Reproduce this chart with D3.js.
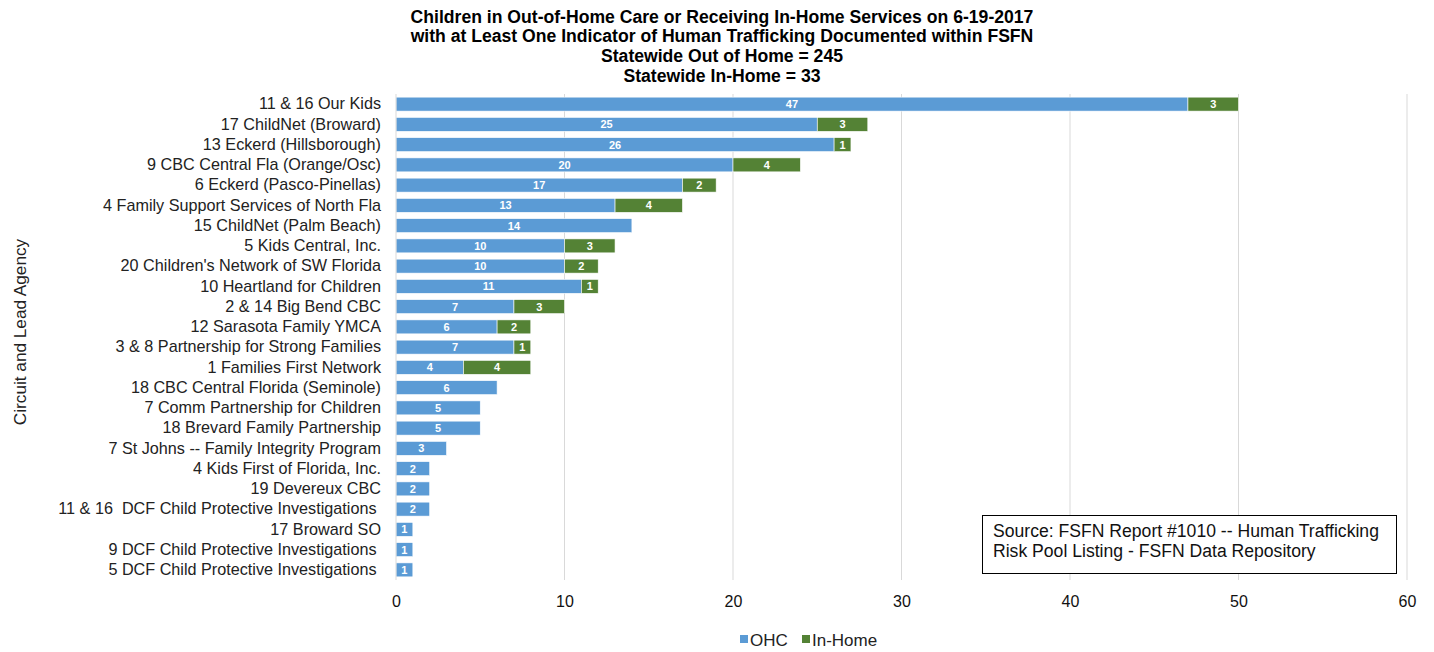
<!DOCTYPE html>
<html><head><meta charset="utf-8">
<script src="https://cdn.jsdelivr.net/npm/d3@7"></script>
<style>
html,body{margin:0;padding:0;background:#fff;}
svg{display:block;font-family:Arial,"Liberation Sans",sans-serif;}
text{white-space:pre;}
</style></head><body>
<svg id="chart" width="1434" height="652"></svg>
<script>
const categories = [
  "11 & 16 Our Kids","17 ChildNet (Broward)","13 Eckerd (Hillsborough)","9 CBC Central Fla (Orange/Osc)",
  "6 Eckerd (Pasco-Pinellas)","4 Family Support Services of North Fla","15 ChildNet (Palm Beach)","5 Kids Central, Inc.",
  "20 Children's Network of SW Florida","10 Heartland for Children","2 & 14 Big Bend CBC","12 Sarasota Family YMCA",
  "3 & 8 Partnership for Strong Families","1 Families First Network","18 CBC Central Florida (Seminole)","7 Comm Partnership for Children",
  "18 Brevard Family Partnership","7 St Johns -- Family Integrity Program","4 Kids First of Florida, Inc.","19 Devereux CBC",
  "11 & 16  DCF Child Protective Investigations ","17 Broward SO","9 DCF Child Protective Investigations ","5 DCF Child Protective Investigations "
];
const ohc    = [47,25,26,20,17,13,14,10,10,11,7,6,7,4,6,5,5,3,2,2,2,1,1,1];
const inHome = [3,3,1,4,2,4,0,3,2,1,3,2,1,4,0,0,0,0,0,0,0,0,0,0];
const xTicks = [0,10,20,30,40,50,60];
const seriesNames = ["OHC","In-Home"];
const colors = ["#5B9BD5","#548235"];
const titleLines = [
  "Children in Out-of-Home Care or Receiving In-Home Services on 6-19-2017",
  "with at Least One Indicator of Human Trafficking Documented within FSFN",
  "Statewide Out of Home = 245",
  "Statewide In-Home = 33"
];
const sourceLines = ["Source: FSFN Report #1010 -- Human Trafficking","Risk Pool Listing - FSFN Data Repository"];

(function(){
const svg = d3.select("#chart");
const pL = 396, pR = 1407, pT = 94, pB = 580;

const x = d3.scaleLinear().domain([0,60]).range([pL,pR]);
const y = d3.scaleBand().domain(categories).range([pT,pB]).paddingInner(0.31).paddingOuter(0.155);

// gridlines
svg.append("g").selectAll("line").data(xTicks.filter(d=>d>0)).join("line")
  .attr("x1",d=>x(d)).attr("x2",d=>x(d)).attr("y1",pT).attr("y2",pB)
  .attr("stroke","#d9d9d9").attr("stroke-width",1);

// title
svg.append("g").selectAll("text").data(titleLines).join("text")
  .attr("x",722).attr("y",(d,i)=>22.5+i*19.7)
  .attr("text-anchor","middle").attr("font-weight","bold").attr("font-size",17.6)
  .attr("fill","#000").style("font-family","'Liberation Sans Narrow','Arial Narrow',Arial,sans-serif")
  .text(d=>d);

// data
const rows = categories.map((c,i)=>({cat:c, ohc:ohc[i], inHome:inHome[i]}));
const stack = d3.stack().keys(["ohc","inHome"])(rows);

const g = svg.append("g");
stack.forEach((layer,li)=>{
  const lg = g.append("g");
  const segs = layer.filter(d=>d[1]-d[0]>0);
  lg.selectAll("rect").data(segs).join("rect")
    .attr("x",d=>x(d[0])).attr("y",d=>y(d.data.cat))
    .attr("width",d=>x(d[1])-x(d[0])).attr("height",y.bandwidth())
    .attr("fill",colors[li]).attr("stroke","#fff").attr("stroke-width",0.6);
  lg.selectAll("text").data(segs).join("text")
    .attr("x",d=>(x(d[0])+x(d[1]))/2).attr("y",d=>y(d.data.cat)+y.bandwidth()/2+4)
    .attr("text-anchor","middle").attr("font-size",11).attr("font-weight","bold")
    .attr("fill","#fff").text(d=>d[1]-d[0]);
});

// y axis line
svg.append("line").attr("x1",pL).attr("x2",pL).attr("y1",pT).attr("y2",pB)
  .attr("stroke","#d9d9d9").attr("stroke-width",1);

// category labels
const yAxis = d3.axisLeft(y).tickSize(0).tickPadding(15);
const ya = svg.append("g").attr("transform",`translate(${pL},0)`).call(yAxis);
ya.select(".domain").remove();
ya.selectAll("text").attr("font-size",16.2).attr("fill","#222").style("font-family","Arial,'Liberation Sans',sans-serif");

// x axis labels
const xAxis = d3.axisBottom(x).tickValues(xTicks).tickSize(0).tickPadding(16);
const xa = svg.append("g").attr("transform",`translate(0,${pB})`).call(xAxis);
xa.select(".domain").remove();
xa.selectAll("text").attr("font-size",16).attr("fill","#111").style("font-family","Arial,'Liberation Sans',sans-serif");

// y axis title
svg.append("text").attr("transform","translate(26,332) rotate(-90)")
  .attr("text-anchor","middle").attr("font-size",17.2).attr("fill","#222").text("Circuit and Lead Agency");

// source box
svg.append("rect").attr("x",982.5).attr("y",515.5).attr("width",414).attr("height",58)
  .attr("fill","#fff").attr("stroke","#000").attr("stroke-width",1);
svg.append("g").selectAll("text").data(sourceLines).join("text")
  .attr("x",993).attr("y",(d,i)=>537+i*20).attr("font-size",17.6).attr("fill","#111").text(d=>d);

// legend
const leg = svg.append("g");
const legItems = [{n:seriesNames[0],c:colors[0],x:740},{n:seriesNames[1],c:colors[1],x:802}];
legItems.forEach(it=>{
  leg.append("rect").attr("x",it.x).attr("y",635).attr("width",8).attr("height",8).attr("fill",it.c);
  leg.append("text").attr("x",it.x+10).attr("y",645.5).attr("font-size",17).attr("fill","#222").text(it.n);
});
})();
</script>
</body></html>
